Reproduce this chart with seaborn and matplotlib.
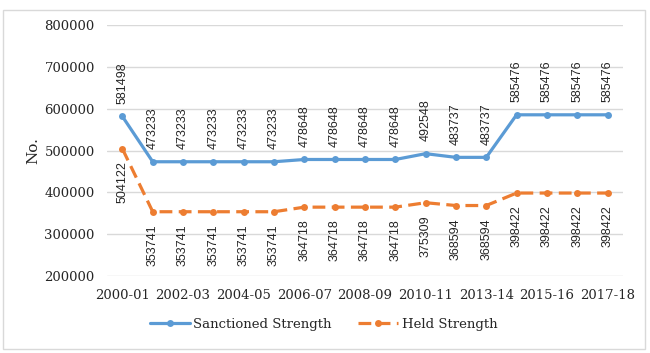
import numpy as np
import pandas as pd
import matplotlib.pyplot as plt
import seaborn as sns
from matplotlib.patches import Rectangle

years = ['2000-01', '2001-02', '2002-03', '2003-04', '2004-05', '2005-06', '2006-07',
         '2007-08', '2008-09', '2009-10', '2010-11', '2011-12', '2013-14', '2014-15',
         '2015-16', '2016-17', '2017-18']
sanctioned = [581498, 473233, 473233, 473233, 473233, 473233, 478648, 478648, 478648,
              478648, 492548, 483737, 483737, 585476, 585476, 585476, 585476]
held = [504122, 353741, 353741, 353741, 353741, 353741, 364718, 364718, 364718,
        364718, 375309, 368594, 368594, 398422, 398422, 398422, 398422]
y_ticks = [200000, 300000, 400000, 500000, 600000, 700000, 800000]

blue = '#5B9BD5'
orange = '#ED7D31'

df = pd.DataFrame({'idx': np.arange(len(years)), 'year': years,
                   'Sanctioned Strength': sanctioned, 'Held Strength': held})

sns.set_style('white')
plt.rcParams['font.family'] = ['DejaVu Serif']

fig = plt.figure(figsize=(6.5, 3.53), dpi=100)
ax = fig.add_axes([0.165, 0.218, 0.793, 0.711])

sns.lineplot(data=df, x='idx', y='Sanctioned Strength', ax=ax, color=blue, lw=2.3,
             marker='o', markersize=5, markeredgewidth=0, label='Sanctioned Strength')
sns.lineplot(data=df, x='idx', y='Held Strength', ax=ax, color=orange, lw=2.3,
             marker='o', markersize=5, markeredgewidth=0, label='Held Strength')
ax.lines[1].set_dashes((4, 2))

# data labels, rotated like the original
for i, v in enumerate(sanctioned):
    ax.annotate(str(v), (i, v), xytext=(0, 9), textcoords='offset points', rotation=90,
                ha='center', va='bottom', fontsize=9, family='Liberation Sans')
for i, v in enumerate(held):
    ax.annotate(str(v), (i, v), xytext=(0, -9), textcoords='offset points', rotation=90,
                ha='center', va='top', fontsize=9, family='Liberation Sans')

ax.set_xlim(-0.5, len(years) - 0.5)
ax.set_ylim(200000, 800000)
ax.set_yticks(y_ticks)
ax.set_yticklabels([str(t) for t in y_ticks], fontsize=9.5)
ax.set_xticks(range(0, len(years), 2))
ax.set_xticklabels(years[::2], fontsize=9.5)
ax.tick_params(axis='x', length=0, pad=9)
ax.tick_params(axis='y', length=0, pad=9)
ax.yaxis.grid(True, color='#D9D9D9', lw=1)
for s in ax.spines.values():
    s.set_visible(False)
ax.set_xlabel('')
ax.set_ylabel('No.', fontsize=11, labelpad=3)

ax.legend(loc='upper center', bbox_to_anchor=(0.42, -0.12), ncol=2, frameon=False,
          fontsize=9.5, handlelength=3, columnspacing=2, handletextpad=0.3)

fig.patches.append(Rectangle((0.005, 0.012), 0.988, 0.96, transform=fig.transFigure,
                             fill=False, edgecolor='#D9D9D9', lw=1))

fig.savefig('out.png', dpi=100)
